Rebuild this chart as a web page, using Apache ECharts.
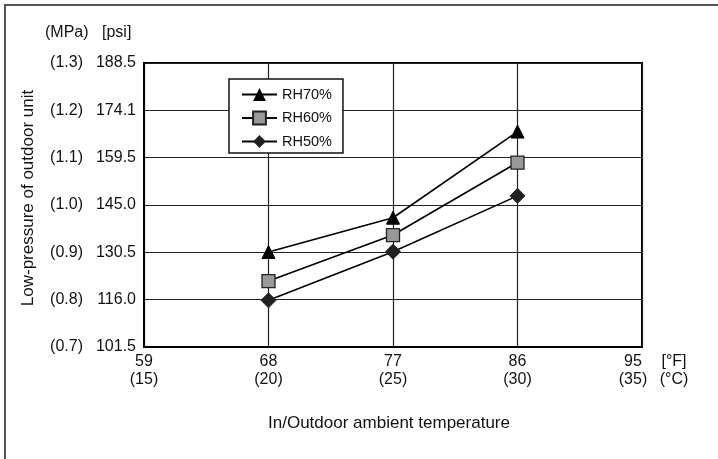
<!DOCTYPE html>
<html>
<head>
<meta charset="utf-8">
<script src="https://cdn.jsdelivr.net/npm/echarts@6/dist/echarts.min.js"></script>
<style>
html,body{margin:0;padding:0;background:#fff;}
#chart{width:718px;height:459px;}
</style>
</head>
<body>
<div id="chart"></div>
<script>
// Temperatures of the measured points (°C) and their °F equivalents
var tempC = [20, 25, 30];
// X tick labels
var xTickC = ['15', '20', '25', '30', '35'];
var xTickF = ['59', '68', '77', '86', '95'];
// Y tick labels
var yTickPsi = ['101.5', '116.0', '130.5', '145.0', '159.5', '174.1', '188.5'];
var yTickMpa = ['0.7', '0.8', '0.9', '1.0', '1.1', '1.2', '1.3'];
// Series (psi)
var seriesNames = ['RH70%', 'RH60%', 'RH50%'];
var rh70 = [130.6, 141.1, 167.5];
var rh60 = [121.7, 135.8, 158.0];
var rh50 = [115.8, 130.7, 147.8];

var FONT = '"Liberation Sans", Arial, sans-serif';
var FS = 16;
var FT = 17;

function pairs(vals) {
  return tempC.map(function (c, i) { return [c, vals[i]]; });
}

var chart = echarts.init(document.getElementById('chart'), null, {renderer: 'canvas'});
var option = {
  backgroundColor: '#fff',
  animation: false,
  textStyle: {fontFamily: FONT},
  grid: {left: 144, right: 76, top: 63, bottom: 112, show: true, borderColor: '#000', borderWidth: 2, backgroundColor: 'transparent'},
  legend: {
    orient: 'vertical',
    left: 229, top: 79,
    backgroundColor: '#fff',
    borderColor: '#111', borderWidth: 1.5,
    padding: [8, 11, 4, 12],
    itemGap: 8.5,
    itemWidth: 35, itemHeight: 16,
    textStyle: {fontFamily: FONT, fontSize: 14.5, color: '#111'},
    data: seriesNames
  },
  xAxis: {
    type: 'value', min: 15, max: 35, interval: 5,
    axisLine: {show: true, lineStyle: {color: '#000', width: 2}},
    axisTick: {show: false},
    splitLine: {show: true, lineStyle: {color: '#222', width: 1.2}},
    axisLabel: {
      margin: 6, color: '#111', fontFamily: FONT, fontSize: FS, lineHeight: 18,
      formatter: function (v, idx) {
        var i = xTickC.indexOf(String(Math.round(v)));
        if (i === xTickC.length - 1) {
          return '{l|' + xTickF[i] + '}\n{l|(' + xTickC[i] + ')}';
        }
        return xTickF[i] + '\n(' + xTickC[i] + ')';
      },
      rich: {
        l: {fontFamily: FONT, fontSize: FS, color: '#111', lineHeight: 18, padding: [0, 18, 0, 0]}
      }
    }
  },
  yAxis: {
    type: 'value', min: 101.5, max: 188.5, interval: 14.5,
    axisLine: {show: true, lineStyle: {color: '#000', width: 2}},
    axisTick: {show: false},
    splitLine: {show: true, lineStyle: {color: '#222', width: 1.2}},
    axisLabel: {
      margin: 8, color: '#111', fontFamily: FONT, fontSize: FS,
      formatter: function (v) {
        var i = Math.round((v - 101.5) / 14.5);
        return '{a|(' + yTickMpa[i] + ')}{b|' + yTickPsi[i] + '}';
      },
      rich: {
        a: {fontFamily: FONT, fontSize: FS, color: '#111'},
        b: {fontFamily: FONT, fontSize: FS, color: '#111', width: 53, align: 'right'}
      }
    }
  },
  graphic: [
    {type: 'rect', silent: true, z: -10, shape: {x: 5, y: 5, width: 740, height: 480}, style: {fill: 'none', stroke: '#555', lineWidth: 2}},
    {type: 'text', x: 45, y: 33, style: {text: '(MPa)', font: FS + 'px ' + FONT, fill: '#111', textVerticalAlign: 'middle'}},
    {type: 'text', x: 102, y: 33, style: {text: '[psi]', font: FS + 'px ' + FONT, fill: '#111', textVerticalAlign: 'middle'}},
    {type: 'text', x: 674, y: 362, style: {text: '[°F]', font: FS + 'px ' + FONT, fill: '#111', textAlign: 'center', textVerticalAlign: 'middle'}},
    {type: 'text', x: 674, y: 380, style: {text: '(°C)', font: FS + 'px ' + FONT, fill: '#111', textAlign: 'center', textVerticalAlign: 'middle'}},
    {type: 'text', x: 389, y: 423, style: {text: 'In/Outdoor ambient temperature', font: FT + 'px ' + FONT, fill: '#111', textAlign: 'center', textVerticalAlign: 'middle'}},
    {type: 'text', x: 28, y: 198, rotation: Math.PI / 2, style: {text: 'Low-pressure of outdoor unit', font: FT + 'px ' + FONT, fill: '#111', textAlign: 'center', textVerticalAlign: 'middle'}}
  ],
  series: [
    {name: seriesNames[0], type: 'line', data: pairs(rh70), symbol: 'triangle', symbolSize: 13,
     lineStyle: {color: '#000', width: 1.6}, itemStyle: {color: '#000', borderColor: '#000'}, z: 5},
    {name: seriesNames[1], type: 'line', data: pairs(rh60), symbol: 'rect', symbolSize: 13,
     lineStyle: {color: '#000', width: 1.6}, itemStyle: {color: '#999', borderColor: '#222', borderWidth: 1.3}, z: 5},
    {name: seriesNames[2], type: 'line', data: pairs(rh50), symbol: 'diamond', symbolSize: 15,
     lineStyle: {color: '#000', width: 1.6}, itemStyle: {color: '#222', borderColor: '#222'}, z: 5}
  ]
};
chart.setOption(option);
</script>
</body>
</html>
